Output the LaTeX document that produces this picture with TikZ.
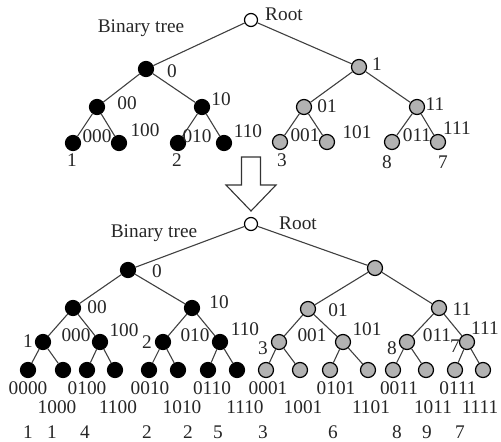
\documentclass[tikz,border=0pt]{standalone}
\usepackage{fontspec}
\setmainfont{Liberation Serif}
\begin{document}
\begin{tikzpicture}[x=1pt,y=-1pt,
  every node/.style={font=\fontsize{19.3}{20}\selectfont, text=black!85},
  vtx/.style={circle, inner sep=0pt, minimum size=15pt, line width=1.2pt, draw=black},
  bn/.style={vtx, fill=black},
  gn/.style={vtx, fill=black!30},
  rn/.style={vtx, fill=white, minimum size=13pt},
  lbl/.style={inner sep=0pt, anchor=center},
  edge/.style={draw=black!75, line width=1.1pt},
  bigarrow/.style={draw=black!80, line width=1.1pt, fill=white, line join=miter}]
\useasboundingbox (0,0) rectangle (501,442);

% ---------- upper tree ----------
\node[rn] (ra) at (251,20) {};
\node[bn] (a0) at (146,69) {};
\node[gn] (a1) at (359,67) {};
\node[bn] (a00) at (97,107) {};
\node[bn] (a10) at (202,107) {};
\node[gn] (a01) at (304,107) {};
\node[gn] (a11) at (417,107) {};
\node[bn] (a000) at (73,143) {};
\node[bn] (a100) at (119,143) {};
\node[bn] (a010) at (178,143) {};
\node[bn] (a110) at (224,143) {};
\node[gn] (a001) at (280,142) {};
\node[gn] (a101) at (327,142) {};
\node[gn] (a011) at (392,142) {};
\node[gn] (a111) at (438,142) {};

\foreach \p/\c in {ra/a0, ra/a1, a0/a00, a0/a10, a1/a01, a1/a11,
  a00/a000, a00/a100, a10/a010, a10/a110, a01/a001, a01/a101, a11/a011, a11/a111}
  \draw[edge] (\p) -- (\c);

\node[lbl] (ta-root) at (284,14) {Root};
\node[lbl] (ta-title) at (141,28) {Binary tree};
\node[lbl] (ta-0) at (172,71) {0};
\node[lbl] (ta-1) at (377,64) {1};
\node[lbl] (ta-00) at (127,103) {00};
\node[lbl] (ta-10) at (221,99) {10};
\node[lbl] (ta-01) at (327,106) {01};
\node[lbl] (ta-11) at (435,104) {11};
\node[lbl] (ta-000) at (97,136) {000};
\node[lbl] (ta-100) at (145,130) {100};
\node[lbl] (ta-010) at (197,136) {010};
\node[lbl] (ta-110) at (248,131) {110};
\node[lbl] (ta-001) at (305,135) {001};
\node[lbl] (ta-101) at (357,132) {101};
\node[lbl] (ta-011) at (417,135) {011};
\node[lbl] (ta-111) at (457,128) {111};
\node[lbl] (ta-c1) at (72,160) {1};
\node[lbl] (ta-c2) at (177,160) {2};
\node[lbl] (ta-c3) at (282,160) {3};
\node[lbl] (ta-c8) at (387,162) {8};
\node[lbl] (ta-c7) at (443,162) {7};

% ---------- hollow arrow ----------
\draw[bigarrow] (241.5,157) -- (260.5,157) -- (260.5,185) -- (276,185)
  -- (251,211) -- (226,185) -- (241.5,185) -- cycle;

% ---------- lower tree ----------
\node[rn] (rb) at (251,224) {};
\node[bn] (b0) at (128,270) {};
\node[gn] (b1) at (375,268) {};
\node[bn] (b00) at (73,308) {};
\node[bn] (b10) at (192,308) {};
\node[gn] (b01) at (308,309) {};
\node[gn] (b11) at (439,308) {};
\node[bn] (c1) at (43,342) {};
\node[bn] (c2) at (100,342) {};
\node[bn] (c3) at (163,342) {};
\node[bn] (c4) at (220,342) {};
\node[gn] (c5) at (279,342) {};
\node[gn] (c6) at (343,342) {};
\node[gn] (c7) at (407,342) {};
\node[gn] (c8) at (467,342) {};
\foreach \i/\x in {1/28, 2/63, 3/87, 4/115, 5/149, 6/178, 7/208, 8/237}
  \node[bn] (d\i) at (\x,370) {};
\foreach \i/\x in {9/266, 10/300, 11/330, 12/368, 13/393, 14/426, 15/455, 16/483}
  \node[gn] (d\i) at (\x,370) {};

\foreach \p/\c in {rb/b0, rb/b1, b0/b00, b0/b10, b1/b01, b1/b11,
  b00/c1, b00/c2, b10/c3, b10/c4, b01/c5, b01/c6, b11/c7, b11/c8,
  c1/d1, c1/d2, c2/d3, c2/d4, c3/d5, c3/d6, c4/d7, c4/d8,
  c5/d9, c5/d10, c6/d11, c6/d12, c7/d13, c7/d14, c8/d15, c8/d16}
  \draw[edge] (\p) -- (\c);

\node[lbl] (tb-root) at (298,223) {Root};
\node[lbl] (tb-title) at (154,233) {Binary tree};
\node[lbl] (tb-0) at (157,271) {0};
\node[lbl] (tb-00) at (97,307) {00};
\node[lbl] (tb-10) at (219,302) {10};
\node[lbl] (tb-01) at (338,310) {01};
\node[lbl] (tb-11) at (462,309) {11};
\node[lbl] (tb-c1) at (28,341) {1};
\node[lbl] (tb-000) at (76,335) {000};
\node[lbl] (tb-100) at (124,330) {100};
\node[lbl] (tb-c2) at (147,342) {2};
\node[lbl] (tb-010) at (195,335) {010};
\node[lbl] (tb-110) at (245,329) {110};
\node[lbl] (tb-c3) at (263,348) {3};
\node[lbl] (tb-001) at (312,335) {001};
\node[lbl] (tb-101) at (367,329) {101};
\node[lbl] (tb-c8) at (392,348) {8};
\node[lbl] (tb-011) at (437,335) {011};
\node[lbl] (tb-c7) at (455,346) {7};
\node[lbl] (tb-111) at (485,328) {111};

% leaf codes, first row
\foreach \t/\x in {0000/28, 0100/87, 0010/150, 0110/212, 0001/268, 0101/336, 0011/399, 0111/458}
  \node[lbl] (r1-\t) at (\x,388) {\t};
% leaf codes, second row
\foreach \t/\x in {1000/57, 1100/118, 1010/182, 1110/245, 1001/303, 1101/371, 1011/433, 1111/480}
  \node[lbl] (r2-\t) at (\x,407) {\t};
% counts
\foreach \t/\x [count=\k] in {1/28, 1/52, 4/85, 2/147, 2/188, 5/218, 3/263, 6/333, 8/397, 9/427, 7/460}
  \node[lbl] (cnt\k) at (\x,432) {\t};
\end{tikzpicture}
\end{document}
